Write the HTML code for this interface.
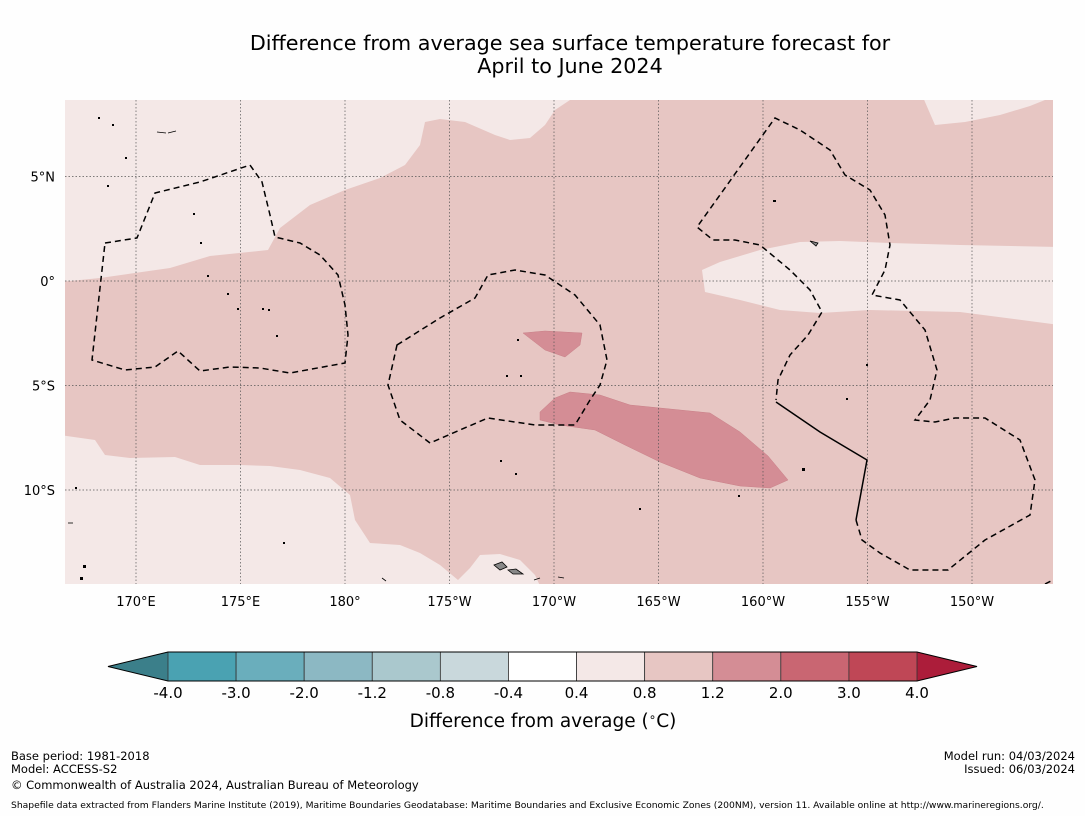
<!DOCTYPE html>
<html><head><meta charset="utf-8">
<style>
body{margin:0;background:#fefefe;font-family:"DejaVu Sans","Liberation Sans",sans-serif;}
svg{display:block}
</style></head>
<body>
<svg width="1085" height="816" viewBox="0 0 1085 816">
<text x="570" y="50" text-anchor="middle" font-size="20.7">Difference from average sea surface temperature forecast for</text>
<text x="570" y="73" text-anchor="middle" font-size="20.7">April to June 2024</text>
<defs><clipPath id="mc"><rect x="65" y="100" width="988" height="484"/></clipPath></defs>
<g clip-path="url(#mc)">
<rect x="65" y="100" width="988" height="484" fill="#e7c6c3"/>
<path fill="#f4e8e7" d="M60,95 L572,95 L570,100 L555,110 L545,125 L530,138 L510,140 L495,135 L465,122 L440,119 L425,122 L420,145 L405,165 L380,178 L345,190 L310,205 L280,228 L268,250 L210,256 L170,268 L100,278 L60,282 Z"/>
<path fill="#f4e8e7" d="M922,95 L1060,95 L1045,100 L1030,106 L1000,115 L965,122 L935,125 Z"/>
<path fill="#f4e8e7" d="M1060,247 L960,245 L890,243 L840,241 L800,242 L760,250 L720,262 L702,270 L705,292 L740,300 L780,310 L820,313 L870,310 L960,312 L1060,325 Z"/>
<path fill="#f4e8e7" d="M60,435 L95,440 L105,455 L130,458 L175,457 L200,465 L240,465 L270,466 L300,470 L330,478 L350,495 L355,520 L370,543 L400,545 L420,553 L440,565 L458,580 L470,568 L480,555 L500,554 L520,560 L535,575 L542,590 L60,590 Z"/>
<path fill="#d48d95" stroke="#c98088" stroke-width="0.5" d="M523,333 L545,331 L582,333 L580,345 L565,357 L545,350 Z"/>
<path fill="#d48d95" stroke="#c98088" stroke-width="0.5" d="M540,412 L555,398 L570,392 L600,395 L630,405 L660,408 L710,413 L740,432 L768,456 L788,480 L770,488 L740,486 L700,478 L660,462 L625,445 L595,430 L560,425 L540,420 Z"/>
<g id="grid" stroke="#555" stroke-width="0.7" stroke-dasharray="1.5,2"></g>
<g fill="none" stroke="#000" stroke-width="1.5" stroke-dasharray="6,4">
<path d="M105,243 L137,238 L155,193 L200,182 L250,165 L262,182 L270,215 L275,237 L300,243 L320,255 L338,275 L345,305 L348,335 L345,363 L290,373 L260,368 L230,367 L200,371 L178,351 L155,367 L125,370 L92,360 Z"/>
<path d="M397,345 L440,318 L475,298 L488,275 L515,270 L545,275 L575,295 L600,325 L607,360 L600,385 L590,400 L575,425 L535,425 L488,418 L460,430 L430,443 L400,420 L388,385 Z"/>
<path d="M856,520 L862,540 L880,553 L910,570 L948,570 L985,540 L1030,515 L1035,480 L1020,440 L985,418 L955,418 L935,422 L915,420 L930,400 L937,370 L925,330 L900,300 L872,295 L885,270 L890,245 L885,215 L870,190 L845,175 L830,150 L800,130 L775,118 L697,227 L713,240 L735,240 L760,245 L790,270 L810,290 L822,312 L808,335 L790,355 L778,380 L776,400"/>
<path d="M1045,584 L1053,580"/>
</g>
<path d="M776,402 L820,432 L867,460 L856,520" fill="none" stroke="#000" stroke-width="1.5"/>
<g fill="#888" stroke="#000" stroke-width="0.8">
<path d="M494,565 L502,562 L507,567 L500,570 Z"/><path d="M508,570 L516,569 L523,574 L513,574 Z"/>
<path d="M810,241 L818,243 L816,246 Z"/><path d="M157,132 L166,133"/><path d="M168,133 L176,131"/>
<path d="M68,523 L73,523"/><path d="M382,578 L386,581"/><path d="M534,580 L540,578"/><path d="M558,577 L564,578"/>
</g>
<g fill="#000">
<rect x="98" y="117" width="2" height="2"/><rect x="112" y="124" width="2" height="2"/><rect x="125" y="157" width="2" height="2"/><rect x="107" y="185" width="2" height="2"/><rect x="193" y="213" width="2" height="2"/><rect x="200" y="242" width="2" height="2"/><rect x="207" y="275" width="2" height="2"/><rect x="227" y="293" width="2" height="2"/><rect x="237" y="308" width="2" height="2"/><rect x="262" y="308" width="2" height="2"/><rect x="268" y="309" width="2" height="2"/><rect x="276" y="335" width="2" height="2"/><rect x="517" y="339" width="2" height="2"/><rect x="506" y="375" width="2" height="2"/><rect x="520" y="375" width="2" height="2"/><rect x="500" y="460" width="2" height="2"/><rect x="515" y="473" width="2" height="2"/><rect x="773" y="200" width="3" height="2"/><rect x="802" y="468" width="3" height="3"/><rect x="866" y="364" width="2" height="2"/><rect x="846" y="398" width="2" height="2"/><rect x="738" y="495" width="2" height="2"/><rect x="639" y="508" width="2" height="2"/><rect x="75" y="487" width="2" height="2"/><rect x="83" y="565" width="3" height="3"/><rect x="80" y="577" width="3" height="3"/><rect x="283" y="542" width="2" height="2"/>
</g>
</g>
<g id="lonlabels" font-size="13" text-anchor="middle"></g>
<g id="latlabels" font-size="13" text-anchor="end"></g>
<g id="cbar"></g>
<text x="543" y="727" text-anchor="middle" font-size="18.5">Difference from average (<tspan font-size="12" dy="-6">∘</tspan><tspan dy="6">C)</tspan></text>
<g font-size="11.5">
<text x="11" y="760">Base period: 1981-2018</text>
<text x="11" y="773">Model: ACCESS-S2</text>
<text x="11" y="789">© Commonwealth of Australia 2024, Australian Bureau of Meteorology</text>
<text x="1075" y="760" text-anchor="end">Model run: 04/03/2024</text>
<text x="1075" y="773" text-anchor="end">Issued: 06/03/2024</text>
<text x="11" y="808" font-size="9.2">Shapefile data extracted from Flanders Marine Institute (2019), Maritime Boundaries Geodatabase: Maritime Boundaries and Exclusive Economic Zones (200NM), version 11. Available online at http://www.marineregions.org/.</text>
</g>
</svg>
<script>
const NS='http://www.w3.org/2000/svg';
const lonTicks=[170,175,180,185,190,195,200,205,210];
const lonLabels=['170°E','175°E','180°','175°W','170°W','165°W','160°W','155°W','150°W'];
const latTicks=[5,0,-5,-10];
const latLabels=['5°N','0°','5°S','10°S'];
const cbBounds=[-4.0,-3.0,-2.0,-1.2,-0.8,-0.4,0.4,0.8,1.2,2.0,3.0,4.0];
const cbColors=['#4aa2b2','#6aaebc','#8cb8c3','#aac8cd','#c9d8dc','#ffffff','#f4e8e7','#e7c6c3','#d48d95','#c96672','#bf4756'];
const cbLabels=['-4.0','-3.0','-2.0','-1.2','-0.8','-0.4','0.4','0.8','1.2','2.0','3.0','4.0'];
const xLon=l=>136+(l-170)*20.9;
const yLat=l=>281-l*20.9;
const grid=document.getElementById('grid');
lonTicks.forEach((l,i)=>{const x=xLon(l);
 const ln=document.createElementNS(NS,'line');ln.setAttribute('x1',x);ln.setAttribute('x2',x);ln.setAttribute('y1',100);ln.setAttribute('y2',584);
 
 
 grid.appendChild(ln);
 const t=document.createElementNS(NS,'text');t.setAttribute('x',x);t.setAttribute('y',606);t.textContent=lonLabels[i];
 
 
 document.getElementById('lonlabels').appendChild(t);});
latTicks.forEach((l,i)=>{const y=yLat(l);
 const ln=document.createElementNS(NS,'line');ln.setAttribute('x1',65);ln.setAttribute('x2',1053);ln.setAttribute('y1',y);ln.setAttribute('y2',y);
 
 
 grid.appendChild(ln);
 const t=document.createElementNS(NS,'text');t.setAttribute('x',55);t.setAttribute('y',y+5);t.textContent=latLabels[i];
 
 
 document.getElementById('latlabels').appendChild(t);});
const cb=document.getElementById('cbar');
const x0=168,x1=917,y0=652,h=29;
const w=(x1-x0)/cbColors.length;
const lt=document.createElementNS(NS,'polygon');lt.setAttribute('points',`${x0},${y0} ${x0},${y0+h} 108,${y0+h/2}`);lt.setAttribute('fill','#3b7f8a');


cb.appendChild(lt);
const rt=document.createElementNS(NS,'polygon');rt.setAttribute('points',`${x1},${y0} ${x1},${y0+h} 977,${y0+h/2}`);rt.setAttribute('fill','#ac1d3a');


cb.appendChild(rt);
cbColors.forEach((c,i)=>{const r=document.createElementNS(NS,'rect');
 r.setAttribute('x',x0+i*w);r.setAttribute('y',y0);r.setAttribute('width',w);r.setAttribute('height',h);r.setAttribute('fill',c);r.setAttribute('stroke','#333');r.setAttribute('stroke-width','0.8');
 
 
 cb.appendChild(r);});
const out=document.createElementNS(NS,'polygon');out.setAttribute('points',`108,${y0+h/2} ${x0},${y0} ${x1},${y0} 977,${y0+h/2} ${x1},${y0+h} ${x0},${y0+h}`);out.setAttribute('fill','none');out.setAttribute('stroke','#000');out.setAttribute('stroke-width','1');


cb.appendChild(out);
cbLabels.forEach((s,i)=>{const t=document.createElementNS(NS,'text');t.setAttribute('x',x0+i*w);t.setAttribute('y',698);t.setAttribute('text-anchor','middle');t.setAttribute('font-size','15');t.textContent=s;
 
 
 cb.appendChild(t);});
</script>
</body></html>
